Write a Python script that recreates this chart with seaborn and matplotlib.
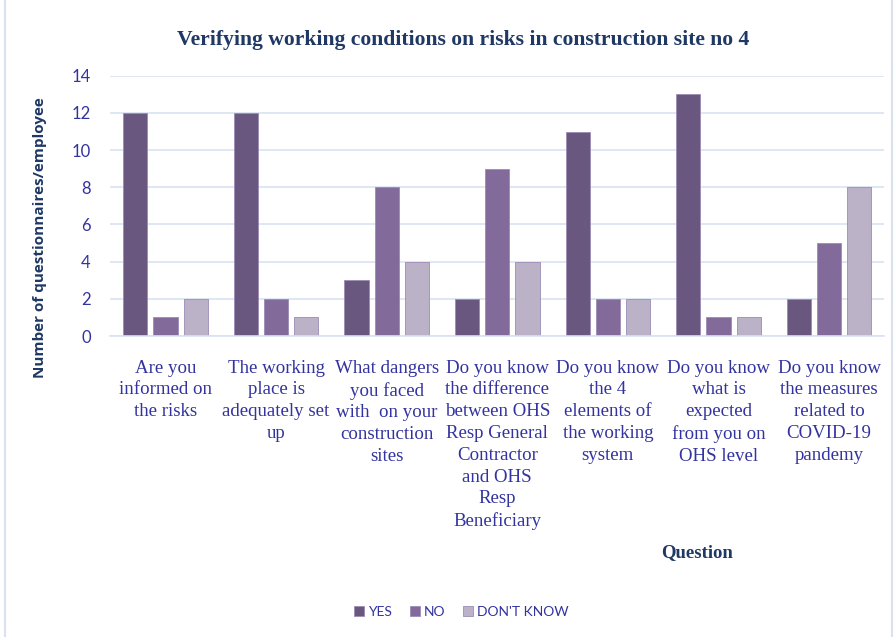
import matplotlib
matplotlib.use('Agg')
import matplotlib.pyplot as plt
import seaborn as sns
import pandas as pd
from matplotlib.patches import Rectangle

## 데이터
questions = [
    'Are you\ninformed on\nthe risks',
    'The working\nplace is\nadequately set\nup',
    'What dangers\nyou faced\nwith  on your\nconstruction\nsites',
    'Do you know\nthe difference\nbetween OHS\nResp General\nContractor\nand OHS\nResp\nBeneficiary',
    'Do you know\nthe 4\nelements of\nthe working\nsystem',
    'Do you know\nwhat is\nexpected\nfrom you on\nOHS level',
    'Do you know\nthe measures\nrelated to\nCOVID-19\npandemy',
]
answers = ['YES', 'NO', "DON'T KNOW"]
yes_counts = [12, 12, 3, 2, 11, 13, 2]
no_counts = [1, 2, 8, 9, 2, 1, 5]
dont_know_counts = [2, 1, 4, 4, 2, 1, 8]
bar_colors = ['#6A5087', '#8263A3', '#BAAFCA']

## long-form 데이터프레임
df = pd.DataFrame({
    'Question': questions * 3,
    'Answer': [a for a in answers for _ in questions],
    'Count': yes_counts + no_counts + dont_know_counts,
})

sns.set_style('white')
plt.rcParams['font.family'] = ['Liberation Serif', 'DejaVu Serif']

text_blue = '#3333A0'
navy = '#1F3864'
grid_blue = '#D9E1F2'

fig = plt.figure(figsize=(8.96, 6.37), dpi=100)
ax = fig.add_axes([0.123, 0.4725, 0.864, 0.4085])

sns.barplot(data=df, x='Question', y='Count', hue='Answer', hue_order=answers,
            palette=bar_colors, width=0.82, gap=0.2, ax=ax, legend=True,
            edgecolor='#9C8BB5', linewidth=0.6)

ax.set_ylim(0, 14)
ax.set_yticks(range(0, 15, 2))
ax.yaxis.grid(True, color=grid_blue, linewidth=1.2)
ax.set_axisbelow(True)
for s in ['top', 'right', 'left']:
    ax.spines[s].set_visible(False)
ax.spines['bottom'].set_color(grid_blue)
ax.spines['bottom'].set_linewidth(1.2)
ax.tick_params(length=0)

ax.set_xticks(range(len(questions)))
ax.set_xticklabels(questions, fontsize=13.6, color=text_blue, va='top',
                   linespacing=1.37)
ax.tick_params(axis='x', pad=17)
for lab in ax.get_yticklabels():
    lab.set_fontfamily('Lato')
    lab.set_fontsize(12)
    lab.set_color(text_blue)
ax.tick_params(axis='y', pad=14)

ax.set_xlabel('')
ax.set_ylabel('Number of questionnaires/employee', fontsize=11, fontweight='bold',
              color=navy, family='Open Sans')
ax.yaxis.set_label_coords(-0.082, 0.38)

fig.text(0.517, 0.937, 'Verifying working conditions on risks in construction site no 4',
         ha='center', va='center', fontsize=15.6, fontweight='bold', color=navy)
fig.text(0.778, 0.132, 'Question', ha='center', va='center', fontsize=13.5,
         fontweight='bold', color=navy)

## 범례
handles, labels = ax.get_legend_handles_labels()
ax.legend_.remove()
fig.legend(handles, labels, loc='center', bbox_to_anchor=(0.515, 0.04), ncol=3,
           frameon=False, handlelength=0.7, handleheight=0.7, handletextpad=0.3,
           columnspacing=1.3, prop={'family': 'Lato', 'size': 10},
           labelcolor=text_blue)

## 바깥 테두리
fig.patches.append(Rectangle((0.006, -0.01), 0.99, 1.02, transform=fig.transFigure,
                             fill=False, edgecolor=grid_blue, linewidth=1.5))

fig.savefig('out.png', dpi=100)
